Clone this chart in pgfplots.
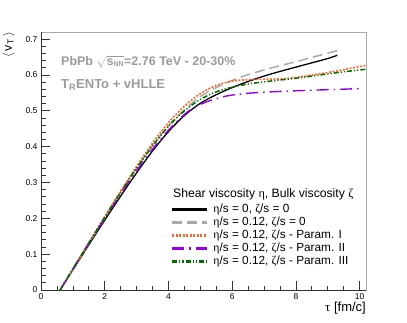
\documentclass[border=0pt]{standalone}
\usepackage{fontspec}
\setmainfont{Liberation Sans}
\newfontfamily\grk{Liberation Serif}
\usepackage{pgfplots}
\pgfplotsset{compat=1.18}
\definecolor{rgray}{RGB}{170,170,170}
\definecolor{rorange}{RGB}{255,100,45}
\definecolor{rviolet}{RGB}{150,0,225}
\definecolor{rgreen}{RGB}{0,110,0}
\definecolor{txtgray}{RGB}{155,155,155}
\pgfplotsset{
  sblack/.style={black, line width=1.3pt},
  sgray/.style={rgray, line width=1.5pt, dash pattern=on 10pt off 5pt},
  sorange/.style={rorange, line width=1.6pt, dash pattern=on 2pt off 1.5pt},
  sviolet/.style={rviolet, line width=1.4pt, dash pattern=on 12pt off 5pt on 1.5pt off 5pt},
  sgreen/.style={rgreen, line width=1.5pt, dash pattern=on 5pt off 2pt on 1.2pt off 2pt on 1.2pt off 2pt},
}
\begin{document}
\begin{tikzpicture}
\path[use as bounding box] (0pt,0pt) rectangle (407pt,322pt);
\begin{axis}[scale only axis, width=325pt, height=258pt,
  at={(41pt,32pt)}, anchor=south west,
  xmin=0, xmax=10.2, ymin=0, ymax=0.72,
  xtick={0,2,4,6,8,10},
  ytick={0,0.1,0.2,0.3,0.4,0.5,0.6,0.7},
  yticklabels={0,0.1,0.2,0.3,0.4,0.5,0.6,0.7},
  minor x tick num=3, minor y tick num=4,
  tick align=inside, tick pos=left,
  major tick length=9pt, minor tick length=4.5pt,
  axis line style={rgray, line width=0.8pt},
  tick style={black!80, line width=0.7pt},
  ticklabel style={font=\fontsize{8.5}{10}\selectfont},
  /pgf/number format/assume math mode=true,
  xlabel={{\grk τ} [fm/c]},
  xlabel style={at={(rel axis cs:1,-0.045)}, anchor=north east, inner sep=0pt, font=\fontsize{13}{15}\selectfont},
  ylabel={$\langle$\,v\textsubscript{T}\,$\rangle$},
  ylabel style={at={(rel axis cs:-0.08,1)}, anchor=south east, inner sep=0pt, font=\fontsize{12.5}{14}\selectfont},
  clip=false,
  legend style={at={(rel axis cs:0.40,0.338)}, anchor=north west, draw=none, fill=none,
    font=\fontsize{11.8}{13}\selectfont, inner sep=0pt, row sep=0pt,
    nodes={inner ysep=1.2pt, text height=8pt, text depth=2.6pt},
    /tikz/every odd column/.append style={column sep=3pt}},
  legend cell align=left,
  legend image code/.code={\draw[#1, line width=2.2pt] (0pt,0pt) -- (35pt,0pt);},
]
\draw[black!80, line width=0.8pt] (rel axis cs:0,1) -- (rel axis cs:0,0) -- (rel axis cs:1,0);

\addplot[sblack, smooth] coordinates {
(0.6,0) (1,0.056) (1.5,0.126) (2,0.195) (2.5,0.262) (3,0.327) (3.5,0.388) (4,0.442)
(4.5,0.487) (5,0.521) (5.5,0.545) (6,0.565) (6.5,0.582) (7,0.597)
(7.5,0.610) (8,0.622) (8.5,0.634) (9,0.646) (9.3,0.655)};
\addlegendentry{{\grk η}/s = 0, {\grk ζ}/s = 0}

\addplot[sgray, smooth] coordinates {
(0.6,0) (1,0.058) (1.5,0.13) (2,0.202) (2.5,0.272) (3,0.34) (3.5,0.403) (4,0.458)
(4.5,0.503) (5,0.54) (5.5,0.565) (6,0.585) (6.5,0.601) (7,0.614) (7.5,0.626)
(8,0.637) (8.5,0.649) (9,0.661) (9.4,0.670)};
\addlegendentry{{\grk η}/s = 0.12, {\grk ζ}/s = 0}

\addplot[sorange, smooth] coordinates {
(0.6,0) (1,0.059) (1.5,0.132) (2,0.205) (2.5,0.276) (3,0.345) (3.5,0.41) (4,0.467)
(4.5,0.513) (5,0.548) (5.5,0.571) (6,0.583) (6.5,0.587) (7,0.588) (7.5,0.589)
(8,0.593) (8.5,0.6) (9,0.607) (9.5,0.615) (10.2,0.627)};
\addlegendentry{{\grk η}/s = 0.12, {\grk ζ}/s - Param. I}

\addplot[sviolet, smooth] coordinates {
(0.6,0) (1,0.058) (1.5,0.13) (2,0.2) (2.5,0.268) (3,0.333) (3.5,0.393) (4,0.446)
(4.5,0.49) (4.75,0.506) (5,0.518) (5.25,0.527) (5.5,0.534) (5.75,0.54) (6,0.544)
(6.5,0.549) (7,0.552) (8,0.556) (9,0.559) (10,0.562)};
\addlegendentry{{\grk η}/s = 0.12, {\grk ζ}/s - Param. II}

\addplot[sgreen, smooth] coordinates {
(0.6,0) (1,0.059) (1.5,0.131) (2,0.203) (2.5,0.273) (3,0.34) (3.5,0.402) (4,0.457)
(4.5,0.5) (5,0.532) (5.5,0.553) (6,0.566) (6.5,0.575) (7,0.581) (7.5,0.586)
(8,0.591) (8.5,0.597) (9,0.603) (9.5,0.609) (10.2,0.616)};
\addlegendentry{{\grk η}/s = 0.12, {\grk ζ}/s - Param. III}

\node[anchor=west, inner sep=0pt, font=\fontsize{12.2}{14}\selectfont] at (rel axis cs:0.406,0.371)
  {Shear viscosity {\grk η}, Bulk viscosity {\grk ζ}};
\node[anchor=west, inner sep=0pt, text=txtgray, font=\bfseries\fontsize{12.5}{14}\selectfont] at (rel axis cs:0.0615,0.884)
  {PbPb $\sqrt{\mbox{s}_{\mbox{\fontsize{7}{8}\selectfont NN}}}$=2.76 TeV - 20-30\%};
\node[anchor=west, inner sep=0pt, text=txtgray, font=\bfseries\fontsize{13}{15}\selectfont] at (rel axis cs:0.0615,0.795)
  {T\textsubscript{R}ENTo + vHLLE};
\end{axis}
\end{tikzpicture}
\end{document}
